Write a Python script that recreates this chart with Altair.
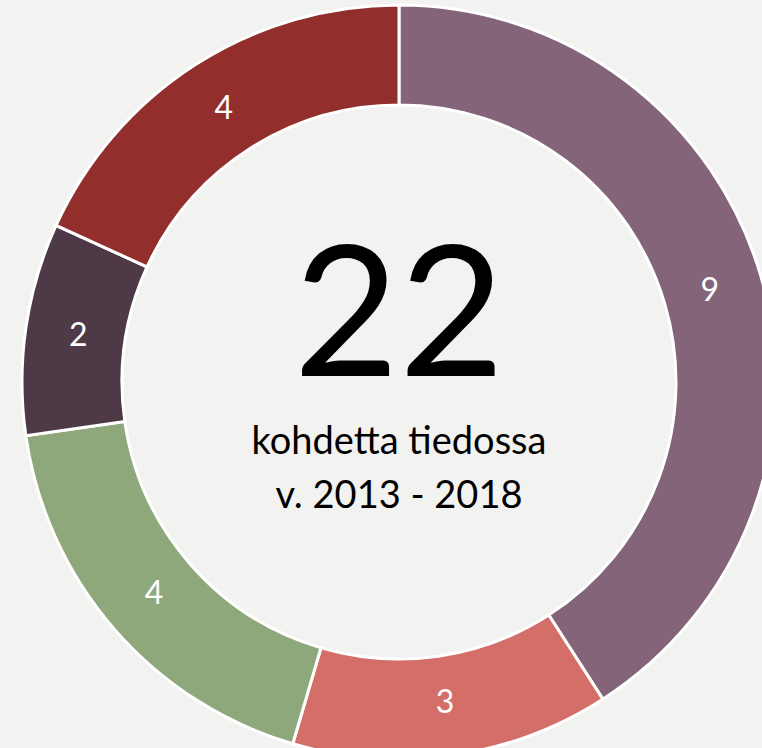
import altair as alt
import pandas as pd

categories = ["Luokka 1", "Luokka 2", "Luokka 3", "Luokka 4", "Luokka 5"]
values = [9, 3, 4, 2, 4]
colors = ["#836479", "#d46e68", "#8ea87c", "#4e3a46", "#922f2c"]
center_lines = ["22", "kohdetta tiedossa", "v. 2013 - 2018"]

df = pd.DataFrame({"cat": categories, "val": values, "ord": list(range(len(values)))})

CX, CY = 399, 382
FONT = "Lato"

base = alt.Chart(df).encode(
    theta=alt.Theta("val:Q", stack=True),
    order=alt.Order("ord:Q"),
    x=alt.value(CX),
    y=alt.value(CY),
)

arcs = base.mark_arc(outerRadius=377, innerRadius=277, stroke="white", strokeWidth=3).encode(
    color=alt.Color("cat:N", scale=alt.Scale(domain=categories, range=colors), legend=None)
)

labels = base.mark_text(radius=324, font=FONT, fontSize=32, color="white",
                        align="center", baseline="middle").encode(text="val:Q")

cdf = pd.DataFrame({"t": center_lines})

big = alt.Chart(cdf.iloc[[0]]).mark_text(font=FONT, fontSize=182, color="black",
                                         align="center", baseline="alphabetic").encode(
    text="t:N", x=alt.value(CX), y=alt.value(376))
line1 = alt.Chart(cdf.iloc[[1]]).mark_text(font=FONT, fontSize=38, color="black",
                                           align="center", baseline="alphabetic").encode(
    text="t:N", x=alt.value(CX), y=alt.value(454))
line2 = alt.Chart(cdf.iloc[[2]]).mark_text(font=FONT, fontSize=38, color="black",
                                           align="center", baseline="alphabetic").encode(
    text="t:N", x=alt.value(CX), y=alt.value(508))

chart = alt.layer(arcs, labels, big, line1, line2).properties(
    width=762, height=748, padding=0, autosize=alt.AutoSizeParams(type="none"),
    background="#f2f2f0",
).configure_view(stroke=None)

chart.save("out.html", embed_options={"renderer": "svg", "actions": False})
